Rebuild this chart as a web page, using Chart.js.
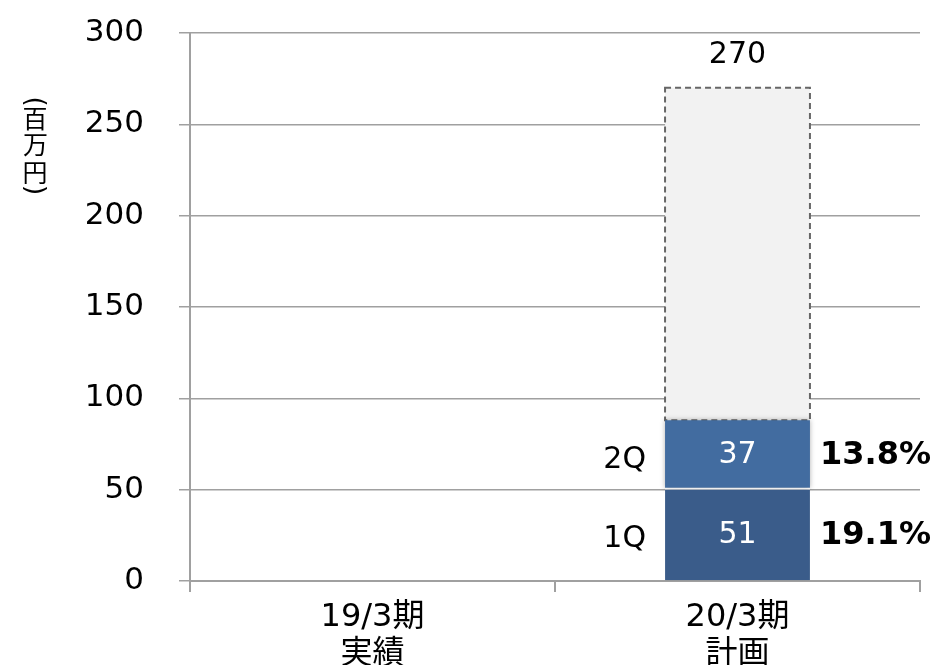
<!DOCTYPE html>
<html>
<head>
<meta charset="utf-8">
<script src="https://cdn.jsdelivr.net/npm/chart.js@4.4.1/dist/chart.umd.min.js"></script>
<style>
html,body{margin:0;padding:0;background:#fff;}
#wrap{width:933px;height:665px;}
</style>
</head>
<body>
<div id="wrap"><canvas id="c" width="933" height="665"></canvas></div>
<script>
const categories = [['19/3期', '実績'], ['20/3期', '計画']];
const q1Values = [null, 51];
const q2Values = [null, 37];
const totalValues = [null, 270];
const q1Share = [null, 19.1];
const q2Share = [null, 13.8];
const seriesNames = ['1Q', '2Q', '残り'];
const yAxisTitle = ['百', '万', '円'];
const yAxisParens = ['(', ')'];
const yMax = 300;
const yStep = 50;

const restValues = totalValues.map((t, i) => t == null ? null : t - q1Values[i] - q2Values[i]);

const FONT = '"DejaVu Sans", "Noto Sans CJK JP", sans-serif';
const GRID = '#A0A0A0';

const shadowPlugin = {
  id: 'shadow',
  beforeDatasetDraw(chart, args) {
    if (args.index < 2) {
      chart.ctx.save();
      chart.ctx.shadowColor = 'rgba(0,0,0,0.3)';
      chart.ctx.shadowBlur = 5;
    }
  },
  afterDatasetDraw(chart, args) {
    const ctx = chart.ctx;
    if (args.index < 2) ctx.restore();
    if (args.index === 2) {
      const meta = chart.getDatasetMeta(2);
      meta.data.forEach((el, i) => {
        if (restValues[i] == null) return;
        const l = el.x - el.width / 2, r = el.x + el.width / 2;
        ctx.save();
        ctx.strokeStyle = '#666';
        ctx.lineWidth = 2;
        ctx.setLineDash([6, 4]);
        ctx.strokeRect(l, el.y, r - l, el.base - el.y);
        ctx.restore();
      });
    }
  }
};

const labelPlugin = {
  id: 'labels',
  afterDatasetsDraw(chart) {
    const ctx = chart.ctx;
    const m1 = chart.getDatasetMeta(0), m2 = chart.getDatasetMeta(1), m3 = chart.getDatasetMeta(2);
    ctx.save();
    categories.forEach((c, i) => {
      if (q1Values[i] == null) return;
      const e1 = m1.data[i], e2 = m2.data[i], e3 = m3.data[i];
      const left = e1.x - e1.width / 2;
      const c1 = (e1.y + e1.base) / 2;
      const c2 = (e2.y + e2.base) / 2;
      ctx.textBaseline = 'middle';
      ctx.font = '30px ' + FONT;
      ctx.fillStyle = '#fff';
      ctx.textAlign = 'center';
      ctx.fillText(String(q1Values[i]), e1.x, c1 + 1);
      ctx.fillText(String(q2Values[i]), e2.x, c2 + 1);
      ctx.fillStyle = '#000';
      ctx.fillText(String(totalValues[i]), e3.x, e3.y - 33);
      ctx.textAlign = 'right';
      ctx.fillText(seriesNames[0], left - 19, c1 + 5);
      ctx.fillText(seriesNames[1], left - 19, c2 + 6);
      ctx.font = 'bold 32px ' + FONT;
      ctx.fillText(q1Share[i].toFixed(1) + '%', 931, c1 + 2);
      ctx.fillText(q2Share[i].toFixed(1) + '%', 931, c2 + 2);
    });
    ctx.restore();
  }
};

function drawCentered(ctx, ch, x, y, rot) {
  ctx.save();
  ctx.translate(x, y);
  ctx.rotate(rot);
  ctx.textAlign = 'left';
  ctx.textBaseline = 'alphabetic';
  const m = ctx.measureText(ch);
  const cx = (m.actualBoundingBoxRight - m.actualBoundingBoxLeft) / 2;
  const cy = (m.actualBoundingBoxDescent - m.actualBoundingBoxAscent) / 2;
  ctx.fillText(ch, -cx, -cy);
  ctx.restore();
}

const yTitlePlugin = {
  id: 'ytitle',
  afterDraw(chart) {
    const ctx = chart.ctx;
    const x = 35;
    ctx.save();
    ctx.fillStyle = '#000';
    ctx.font = '25px "Noto Sans CJK JP", sans-serif';
    const ys = [119, 145, 173];
    yAxisTitle.forEach((ch, k) => drawCentered(ctx, ch, x, ys[k], 0));
    ctx.font = '26px "DejaVu Sans", sans-serif';
    drawCentered(ctx, yAxisParens[0], x, 102, Math.PI / 2);
    drawCentered(ctx, yAxisParens[1], x, 190, Math.PI / 2);
    ctx.restore();
  }
};

new Chart(document.getElementById('c'), {
  type: 'bar',
  data: {
    labels: categories,
    datasets: [
      {
        label: seriesNames[0], data: q1Values, backgroundColor: '#3A5C8A',
        borderWidth: {top: 2, bottom: 0, left: 0, right: 0}, borderColor: '#ffffff', borderSkipped: false
      },
      {
        label: seriesNames[1], data: q2Values, backgroundColor: '#426CA0', borderWidth: 0
      },
      {
        label: seriesNames[2], data: restValues, backgroundColor: '#F2F2F2', borderWidth: 0
      }
    ]
  },
  options: {
    responsive: false,
    animation: false,
    devicePixelRatio: 1,
    layout: { padding: { top: 33, right: 13, left: 0, bottom: 0 } },
    plugins: { legend: { display: false }, tooltip: { enabled: false } },
    datasets: { bar: { barPercentage: 0.397, categoryPercentage: 1 } },
    scales: {
      x: {
        stacked: true,
        grid: { display: true, drawOnChartArea: false, drawTicks: true, tickLength: 11, color: GRID, lineWidth: 2 },
        border: { display: true, color: GRID, width: 2 },
        ticks: { color: '#000', font: { family: FONT, size: 32, lineHeight: 1.15 }, padding: 7, maxRotation: 0 },
        afterFit(s) { s.height = 84; s.paddingLeft = 0; s.paddingRight = 0; }
      },
      y: {
        stacked: true,
        min: 0, max: yMax,
        grid: { color: GRID, lineWidth: 1.5, tickLength: 11 },
        border: { display: true, color: GRID, width: 2 },
        ticks: { stepSize: yStep, color: '#000', font: { family: FONT, size: 31 }, padding: 35 },
        afterFit(s) { s.width = 190; s.paddingTop = 0; s.paddingBottom = 0; }
      }
    }
  },
  plugins: [shadowPlugin, labelPlugin, yTitlePlugin]
});
</script>
</body>
</html>
